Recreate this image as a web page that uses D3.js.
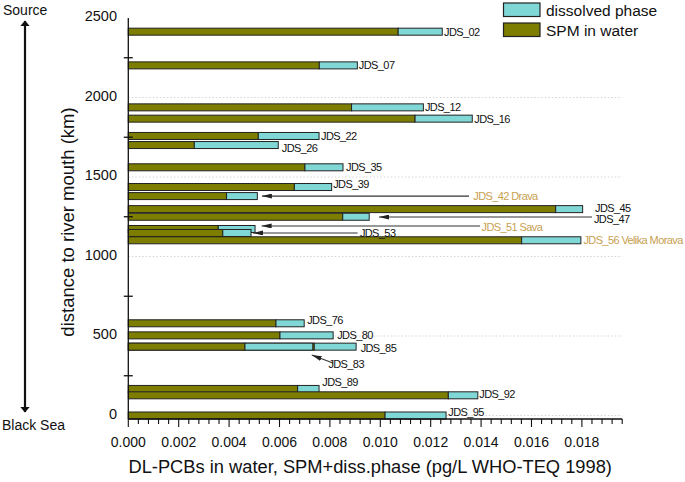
<!DOCTYPE html>
<html>
<head>
<meta charset="utf-8">
<script src="https://cdn.jsdelivr.net/npm/d3@7"></script>
<style>
  html, body { margin: 0; padding: 0; background: #fff; }
  svg { display: block; font-family: "Liberation Sans", Arial, sans-serif; }
</style>
</head>
<body>
<svg id="chart" width="685" height="482"></svg>
<script>
// ---------- data ----------
const stations = ["JDS_02","JDS_07","JDS_12","JDS_16","JDS_22","JDS_26","JDS_35","JDS_39",
  "JDS_42 Drava","JDS_45","JDS_47","JDS_51 Sava","JDS_53","JDS_56 Velika Morava",
  "JDS_76","JDS_80","JDS_85","JDS_83","JDS_89","JDS_92","JDS_95"];
const distanceKm = [2414, 2202, 1938, 1867, 1758, 1701, 1561, 1437, 1380, 1298, 1250, 1173, 1148, 1102,
  580, 504, 433, 433, 167, 127, 0];
const spmInWater = [0.01071, 0.00758, 0.00886, 0.01138, 0.00516, 0.00262, 0.00701, 0.00659,
  0.00390, 0.01696, 0.00851, 0.00357, 0.00375, 0.01561, 0.00586, 0.00602, 0.00738, 0.00463,
  0.00672, 0.01270, 0.01019];
const dissolvedPhase = [0.00175, 0.00151, 0.00285, 0.00227, 0.00241, 0.00333, 0.00151, 0.00148,
  0.00122, 0.00107, 0.00105, 0.00146, 0.00112, 0.00235, 0.00112, 0.00211, 0.00166, 0.00269,
  0.00085, 0.00117, 0.00242];
const tributary = [false,false,false,false,false,false,false,false,true,false,false,true,false,true,
  false,false,false,false,false,false,false];
// label anchor (value, km)
const labelValue = [0.01253, 0.00915, 0.01177, 0.01373, 0.00765, 0.00609, 0.00864, 0.00813,
  0.01369, 0.01852, 0.01848, 0.01402, 0.00919, 0.01806, 0.00710, 0.00829, 0.00922, 0.00794,
  0.00770, 0.01393, 0.01270];
const labelKm = [2412, 2204, 1942, 1867, 1758, 1684, 1565, 1454, 1382, 1303, 1234, 1187, 1150, 1102,
  601, 506, 423, 322, 213, 133, 20];
// leader arrows [fromValue, fromKm, toValue, toKm]
const arrows = [
  [0.01352, 1380, 0.00530, 1380],
  [0.01840, 1248, 0.00995, 1248],
  [0.01396, 1192, 0.00529, 1192],
  [0.00910, 1148, 0.00495, 1148],
  [0.00812, 330, 0.00728, 380]
];
const xTickLabels = ["0.000","0.002","0.004","0.006","0.008","0.010","0.012","0.014","0.016","0.018"];
const yTickLabels = [0, 500, 1000, 1500, 2000, 2500];
const seriesNames = ["dissolved phase", "SPM in water"];

// ---------- styles ----------
const colSPM = "#7d7d00", colDiss = "#80d8d6", colStroke = "#222", colTrib = "#c8a050";
const svg = d3.select("#chart");

const x = d3.scaleLinear().domain([0, 0.0196]).range([128.3, 622.2]);
const y = d3.scaleLinear().domain([-22, 2500]).range([419, 18]);
const barH = 7;

// gridlines
svg.append("g").selectAll("line").data([0, 500, 1000, 1500, 2000]).join("line")
  .attr("x1", x(0)).attr("x2", x(0.0196))
  .attr("y1", d => y(d)).attr("y2", d => y(d))
  .attr("stroke", "#d4d4d4").attr("stroke-width", 1).attr("stroke-dasharray", "1.5,2");

// bars
const rows = stations.map((s, i) => ({ s, km: distanceKm[i], spm: spmInWater[i], diss: dissolvedPhase[i] }));
const gb = svg.append("g");
rows.forEach(r => {
  gb.append("rect").attr("x", x(0)).attr("y", y(r.km) - barH / 2)
    .attr("width", x(r.spm) - x(0)).attr("height", barH)
    .attr("fill", colSPM).attr("stroke", colStroke).attr("stroke-width", 1);
  gb.append("rect").attr("x", x(r.spm)).attr("y", y(r.km) - barH / 2)
    .attr("width", x(r.spm + r.diss) - x(r.spm)).attr("height", barH)
    .attr("fill", colDiss).attr("stroke", colStroke).attr("stroke-width", 1);
});

// arrows
const defs = svg.append("defs");
defs.append("marker").attr("id", "ah").attr("viewBox", "0 0 10 10").attr("refX", 0).attr("refY", 5)
  .attr("markerWidth", 10).attr("markerHeight", 5).attr("orient", "auto")
  .attr("markerUnits", "userSpaceOnUse").attr("preserveAspectRatio", "none")
  .append("path").attr("d", "M0,5 L10,0 L10,10 Z").attr("fill", "#222");
svg.append("g").selectAll("line").data(arrows).join("line")
  .attr("x1", d => x(d[2])).attr("y1", d => y(d[3]))
  .attr("x2", d => x(d[0])).attr("y2", d => y(d[1]))
  .attr("stroke", "#333").attr("stroke-width", 1.1)
  .attr("marker-start", "url(#ah)");

// labels
svg.append("g").selectAll("text").data(stations).join("text")
  .attr("x", (d, i) => x(labelValue[i])).attr("y", (d, i) => y(labelKm[i]))
  .attr("dy", "0.36em")
  .attr("font-size", 11).attr("letter-spacing", "-0.6")
  .attr("fill", (d, i) => tributary[i] ? colTrib : "#111")
  .text(d => d);

// x axis
const gx = svg.append("g").attr("transform", `translate(0,${y(-22)})`);
gx.append("line").attr("x1", x(0)).attr("x2", x(0.0196)).attr("stroke", "#111").attr("stroke-width", 1.3);
const minorT = d3.range(0, 50).map(i => i * 0.0004);
gx.selectAll("line.t").data(minorT).join("line").attr("class", "t")
  .attr("x1", d => x(d)).attr("x2", d => x(d))
  .attr("y1", 0).attr("y2", (d, i) => i % 5 === 0 ? 8 : 5)
  .attr("stroke", "#111").attr("stroke-width", 1.1);
gx.selectAll("text").data(xTickLabels).join("text")
  .attr("x", d => x(+d)).attr("y", 28)
  .attr("text-anchor", "middle").attr("font-size", 14).attr("fill", "#111").text(d => d);
svg.append("text").attr("x", x(0.0096)).attr("y", 473)
  .attr("text-anchor", "middle").attr("font-size", 18.3).attr("fill", "#111")
  .text("DL-PCBs in water, SPM+diss.phase (pg/L WHO-TEQ 1998)");

// y axis
const gy = svg.append("g");
gy.append("line").attr("x1", x(0)).attr("x2", x(0)).attr("y1", y(2500)).attr("y2", y(-22))
  .attr("stroke", "#111").attr("stroke-width", 1.3);
gy.selectAll("line.t").data([250, 750, 1250, 1750, 2250]).join("line").attr("class", "t")
  .attr("x1", x(0) - 4.5).attr("x2", x(0) + 4.5)
  .attr("y1", d => y(d)).attr("y2", d => y(d))
  .attr("stroke", "#111").attr("stroke-width", 1.3);
gy.selectAll("text").data(yTickLabels).join("text")
  .attr("x", 117).attr("y", d => y(d) + 3)
  .attr("text-anchor", "end").attr("font-size", 14.5).attr("fill", "#111").text(d => d);
svg.append("text").attr("transform", `translate(74,222) rotate(-90)`)
  .attr("text-anchor", "middle").attr("font-size", 18.5).attr("fill", "#111")
  .text("distance to river mouth (km)");

// source / sea arrow
svg.append("text").attr("x", 3).attr("y", 15).attr("font-size", 14).attr("fill", "#111").text("Source");
svg.append("text").attr("x", 2).attr("y", 430).attr("font-size", 14).attr("fill", "#111").text("Black Sea");
defs.append("marker").attr("id", "ah2").attr("viewBox", "0 0 10 10").attr("refX", 9).attr("refY", 5)
  .attr("markerWidth", 6).attr("markerHeight", 10).attr("orient", "auto-start-reverse")
  .attr("markerUnits", "userSpaceOnUse").attr("preserveAspectRatio", "none")
  .append("path").attr("d", "M0,0 L10,5 L0,10 Z").attr("fill", "#111");
svg.append("line").attr("x1", 25).attr("x2", 25).attr("y1", 21).attr("y2", 412)
  .attr("stroke", "#111").attr("stroke-width", 2.2)
  .attr("marker-start", "url(#ah2)").attr("marker-end", "url(#ah2)");

// legend
const lg = svg.append("g");
const legendCols = [colDiss, colSPM];
seriesNames.forEach((n, i) => {
  lg.append("rect").attr("x", 503.5).attr("y", 3 + i * 20).attr("width", 36.5).attr("height", 13.5)
    .attr("fill", legendCols[i]).attr("stroke", colStroke).attr("stroke-width", 1.2);
  lg.append("text").attr("x", 546).attr("y", 15.5 + i * 20).attr("font-size", 15.5).attr("fill", "#111").text(n);
});
</script>
</body>
</html>
